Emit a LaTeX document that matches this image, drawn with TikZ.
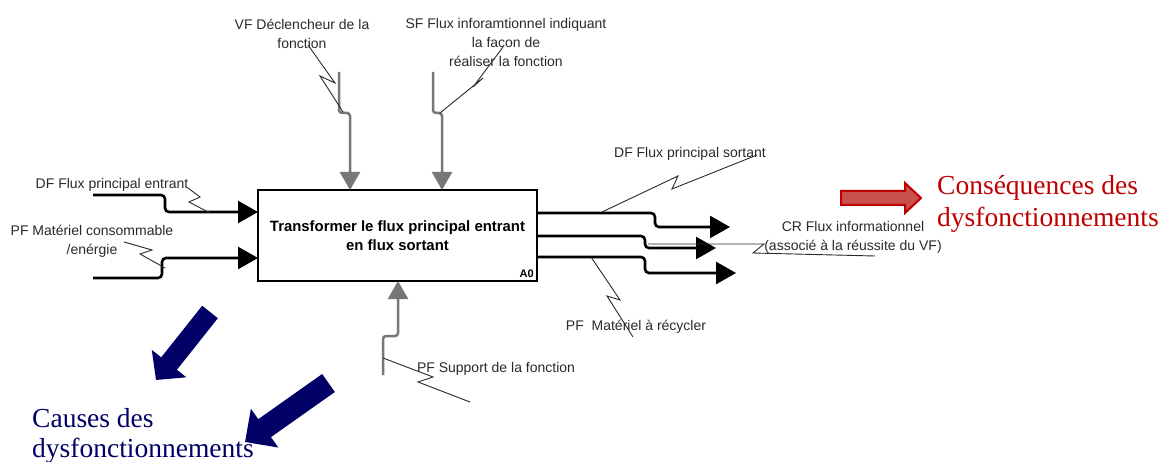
\documentclass[tikz,border=0pt]{standalone}
\usepackage{fontspec}
\setmainfont{Liberation Serif}
\setsansfont{Liberation Sans}
\usetikzlibrary{arrows.meta}
\definecolor{lblc}{HTML}{2A2A2A}
\definecolor{ctrlc}{HTML}{777777}
\definecolor{navyb}{HTML}{000066}
\definecolor{redt}{HTML}{C00000}
\definecolor{redfill}{HTML}{C8504D}
\begin{document}
\begin{tikzpicture}[x=1pt,y=-1pt,
  lbl/.style={font=\sffamily\fontsize{14}{19}\selectfont, text=lblc, inner sep=0pt, align=center},
  flow/.style={line width=2.6pt, rounded corners=4pt, -{Triangle[length=20pt,width=22pt]}},
  ctrlflow/.style={line width=2.5pt, draw=ctrlc, rounded corners=3pt, -{Triangle[length=18pt,width=20pt]}, ctrlc},
  zig/.style={line width=0.9pt, draw=lblc},
  big/.style={font=\rmfamily\fontsize{27.5}{31}\selectfont, inner sep=0pt, anchor=base west}
]
\useasboundingbox (0,0) rectangle (1172,462);
\fill[white] (0,0) rectangle (1172,462);

% main box
\node[draw, line width=2.5pt, outer sep=0pt, minimum width=279pt, minimum height=91pt, inner sep=0pt,
      align=center, font=\sffamily\bfseries\fontsize{14.9}{18.5}\selectfont] (box) at (397.5,235.5)
      {Transformer le flux principal entrant\\en flux sortant};
\node[font=\sffamily\bfseries\fontsize{11}{12}\selectfont, anchor=south east, inner sep=0pt] (a0) at (534,278) {A0};

% labels
\node[lbl] (vf) at (302,34) {VF Déclencheur de la\\fonction};
\node[lbl] (sf) at (506,42) {SF Flux inforamtionnel indiquant\\la facon de\\réaliser la fonction};
\node[lbl] (dfin) at (112,185) {DF Flux principal entrant};
\node[lbl] (pfin) at (92,241) {PF Matériel consommable\\/enérgie};
\node[lbl] (dfout) at (690,154) {DF Flux principal sortant};
\node[lbl] (cr) at (853,237) {CR Flux informationnel\\(associé à la réussite du VF)};
\node[lbl] (pfrec) at (636,327) {PF\ \ Matériel à récycler};
\node[lbl] (pfsup) at (496,369) {PF Support de la fonction};

% coordinates for flows
\coordinate (i1s) at (93,195);
\coordinate (i1e) at (258,212);
\coordinate (i2s) at (93,278);
\coordinate (i2e) at (258,258);
\coordinate (c1s) at (339,72);
\coordinate (c1e) at (350,190);
\coordinate (c2s) at (433,72);
\coordinate (c2e) at (442,190);
\coordinate (m1s) at (383,375);
\coordinate (m1e) at (398,281);
\coordinate (o1s) at (537,213);
\coordinate (o1e) at (730,227);
\coordinate (o2s) at (537,236);
\coordinate (o2e) at (716,248);
\coordinate (o3s) at (537,257);
\coordinate (o3e) at (736,273);
\coordinate (crs) at (648,244);

% inputs
\draw[flow] (i1s) -- (165,195) -- (165,212) -- (i1e);
\draw[flow] (i2s) -- (162,278) -- (162,258) -- (i2e);
% controls
\draw[ctrlflow] (c1s) -- (339,113) -- (350,113) -- (c1e);
\draw[ctrlflow] (c2s) -- (433,113) -- (442,113) -- (c2e);
% mechanism
\draw[ctrlflow] (m1s) -- (383,336) -- (398,336) -- (m1e);
% outputs
\draw[flow] (o1s) -- (655,213) -- (655,227) -- (o1e);
\draw[flow] (o2s) -- (645,236) -- (645,248) -- (o2e);
\draw[flow] (o3s) -- (645,257) -- (645,273) -- (o3e);

% squiggles
\draw[zig] (188,188) -- (200,197) -- (189,202) -- (210,213);
\draw[zig] (124,242) -- (152,250) -- (140,254) -- (165,268);
\draw[zig] (308,45) -- (335,83) -- (320,76) -- (343,112);
\draw[zig] (503,47) -- (473,87) -- (483,78) -- (440,113);
\draw[zig] (602,212) -- (678,176) -- (672,189) -- (757,155);
\draw[zig] (crs) -- (764,244) -- (753,253) -- (875,256);
\draw[zig] (591,257) -- (620,300) -- (607,296) -- (633,337);
\draw[zig] (383,358) -- (433,377) -- (418,382) -- (470,402);

% red block arrow
\filldraw[draw=redt, fill=redfill, line width=2pt, line join=miter]
  (841,191) -- (905,191) -- (905,183) -- (921,198) -- (905,213) -- (905,205) -- (841,205) -- cycle;
\node[big, text=redt] (cons1) at (937,195) {Conséquences des};
\node[big, text=redt] (cons2) at (937,227) {dysfonctionnements};

% blue block arrows
\draw[navyb, line width=20pt, -{Triangle[length=21pt,width=43pt]}] (210,312) -- (156,380);
\draw[navyb, line width=22pt, -{Triangle[length=24pt,width=46pt]}] (328.5,383) -- (245,442);
\node[big, text=navyb] (caus1) at (32,427) {Causes des};
\node[big, text=navyb] (caus2) at (32,457) {dysfonctionnements};
\end{tikzpicture}
\end{document}
